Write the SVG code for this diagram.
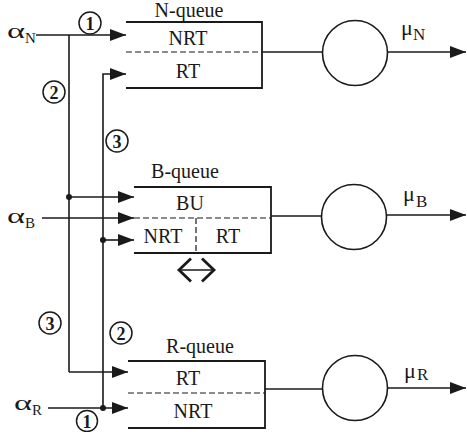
<svg xmlns="http://www.w3.org/2000/svg" width="467" height="432" viewBox="0 0 467 432" font-family="'Liberation Serif', 'DejaVu Serif', serif">
<defs>
<marker id="ah" markerUnits="userSpaceOnUse" markerWidth="18" markerHeight="12" refX="16" refY="6" orient="auto"><path d="M0,0 L16,6 L0,12 Z" fill="#1a1a1a"/></marker>
<marker id="ch" markerUnits="userSpaceOnUse" markerWidth="16" markerHeight="26" refX="13" refY="13" orient="auto-start-reverse"><path d="M1,1.5 L13,13 L1,24.5" fill="none" stroke="#1a1a1a" stroke-width="2.8"/></marker>
<style>
text{font-family:'Liberation Serif','DejaVu Serif',serif;fill:#1a1a1a}
.lb{font-size:20px;text-anchor:middle}
.gk{font-size:22px}
.sb{font-size:15px}
.sm{font-size:17px}
.ln{stroke:#1a1a1a;stroke-width:1.6;fill:none}
.bx{stroke:#1a1a1a;stroke-width:1.8;fill:none}
.ds{stroke:#1a1a1a;stroke-width:1.2;fill:none;stroke-dasharray:6,3}
.ar{stroke:#1a1a1a;stroke-width:1.6;fill:none;marker-end:url(#ah)}
.sv{stroke:#1a1a1a;stroke-width:1.6;fill:#fff}
.cn circle{stroke:#1a1a1a;stroke-width:1.5;fill:#fff}
.cn text{font-size:18px;font-weight:bold;text-anchor:middle}
.dot{fill:#1a1a1a}
</style>
</defs>

<g id="n-queue">
<path class="bx" d="M126,22 H262 V88 H126"/>
<line class="ds" x1="126" y1="52" x2="262" y2="52"/>
<text class="lb" x="189" y="17">N-queue</text>
<text class="lb" x="188" y="45">NRT</text>
<text class="lb" x="188" y="78">RT</text>
</g>
<g id="b-queue">
<path class="bx" d="M134,187 H271 V253 H134"/>
<line class="ds" x1="134" y1="218" x2="271" y2="218"/>
<line class="ds" x1="196" y1="218" x2="196" y2="253"/>
<text class="lb" x="185" y="178">B-queue</text>
<text class="lb" x="190" y="210">BU</text>
<text class="lb" x="163" y="243">NRT</text>
<text class="lb" x="228" y="243">RT</text>
<line class="ln" x1="179" y1="270" x2="214" y2="270" marker-start="url(#ch)" marker-end="url(#ch)" style="stroke-width:1.4"/>
</g>
<g id="r-queue">
<path class="bx" d="M128,361 H265 V428 H128"/>
<line class="ds" x1="128" y1="393" x2="265" y2="393"/>
<text class="lb" x="200" y="353">R-queue</text>
<text class="lb" x="188" y="385">RT</text>
<text class="lb" x="193" y="418">NRT</text>
</g>

<g id="server-n"><circle class="sv" cx="355" cy="53" r="32.5"/></g>
<g id="server-b"><circle class="sv" cx="354" cy="217" r="32.5"/></g>
<g id="server-r"><circle class="sv" cx="355" cy="388" r="32.5"/></g>

<g id="labels">
<text class="gk" x="7" y="38" textLength="18" lengthAdjust="spacingAndGlyphs">α</text><text class="sb" x="25" y="43">N</text>
<text class="gk" x="7" y="223" textLength="18" lengthAdjust="spacingAndGlyphs">α</text><text class="sb" x="25" y="228">B</text>
<text class="gk" x="14" y="410" textLength="18" lengthAdjust="spacingAndGlyphs">α</text><text class="sb" x="32" y="415">R</text>
<text class="gk" x="401" y="35">μ</text><text class="sm" x="413" y="40">N</text>
<text class="gk" x="403" y="201">μ</text><text class="sm" x="416" y="207">B</text>
<text class="gk" x="404" y="378">μ</text><text class="sm" x="417" y="380">R</text>
</g>

<g id="connectors">
<line class="ar" x1="36" y1="35" x2="126" y2="35"/>
<path class="ln" d="M69,35 V372"/>
<path class="ar" d="M69,372 H128"/>
<path class="ar" d="M69,197 H134"/>
<path class="ar" d="M103,408 V74 H126"/>
<path class="ar" d="M103,240 H134"/>
<line class="ar" x1="42" y1="218" x2="134" y2="218"/>
<line class="ar" x1="48" y1="408" x2="128" y2="408"/>
<circle class="dot" cx="69" cy="197" r="3"/>
<circle class="dot" cx="103" cy="240" r="3"/>
<circle class="dot" cx="103" cy="408" r="3"/>
<line class="ln" x1="262" y1="52" x2="322.5" y2="52"/>
<line class="ln" x1="271" y1="216" x2="321.5" y2="216"/>
<line class="ln" x1="265" y1="389" x2="322.5" y2="389"/>
<line class="ar" x1="387.5" y1="52" x2="466" y2="52"/>
<line class="ar" x1="386.5" y1="215" x2="466" y2="215"/>
<line class="ar" x1="387.5" y1="388" x2="466" y2="388"/>
</g>

<g id="route-numbers" class="cn">
<circle cx="90" cy="23" r="11"/><text x="90" y="29.5">1</text>
<circle cx="54" cy="92" r="11"/><text x="54" y="98.5">2</text>
<circle cx="117" cy="141" r="11"/><text x="117" y="147.5">3</text>
<circle cx="50" cy="323" r="11"/><text x="50" y="329.5">3</text>
<circle cx="121" cy="333" r="11"/><text x="121" y="339.5">2</text>
<circle cx="87" cy="421" r="10.5"/><text x="87" y="427.5">1</text>
</g>
</svg>
